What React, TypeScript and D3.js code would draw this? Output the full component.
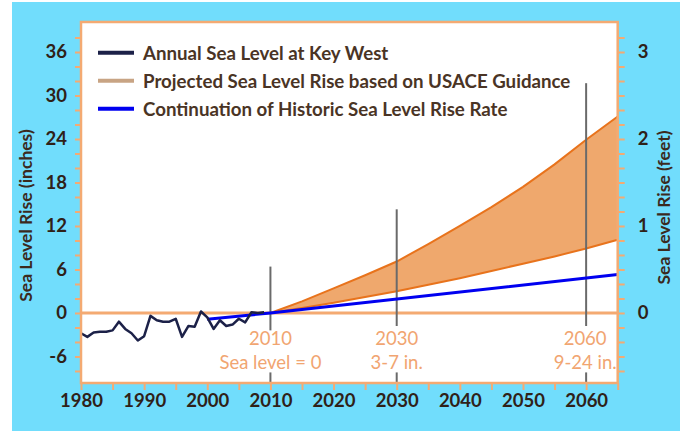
import React, { useEffect, useRef } from 'react';
import * as d3 from 'd3';

// annual mean sea level at Key West, inches relative to 2010
const keyWestYears = [1980, 1981, 1982, 1983, 1984, 1985, 1986, 1987, 1988, 1989, 1990, 1991, 1992, 1993, 1994,
  1995, 1996, 1997, 1998, 1999, 2000, 2001, 2002, 2003, 2004, 2005, 2006, 2007, 2008, 2009];
const keyWestLevels = [-2.8, -3.3, -2.7, -2.6, -2.6, -2.4, -1.2, -2.2, -2.8, -3.8, -3.2, -0.4, -1.0, -1.2, -1.2,
  -0.8, -3.3, -1.8, -1.9, 0.2, -0.6, -2.2, -1.0, -1.8, -1.6, -0.8, -1.3, 0.1, 0.0, 0.1];

// USACE projection envelope (inches)
const projYears = [2010, 2015, 2020, 2025, 2030, 2035, 2040, 2045, 2050, 2055, 2060, 2065];
const projLow = [0, 0.7, 1.4, 2.2, 3.0, 3.9, 4.8, 5.8, 6.8, 7.8, 8.9, 10.1];
const projHigh = [0, 1.6, 3.4, 5.2, 7.1, 9.5, 12.0, 14.6, 17.4, 20.5, 23.9, 27.1];

// historic rate continued
const histYears = [2000, 2010, 2065];
const histLevels = [-0.85, 0, 5.3];

const markerYears = [2010, 2030, 2060];
const markerTops = [6.4, 14.3, 31.7];
const markerGapTop = [-2.4, -1.8, -1.8];
const markerTitles = ['2010', '2030', '2060'];
const markerNotes = ['Sea level = 0', '3-7 in.', '9-24 in.'];

const legendLabels = [
  'Annual Sea Level at Key West',
  'Projected Sea Level Rise based on USACE Guidance',
  'Continuation of Historic Sea Level Rise Rate',
];
const legendColors = ['#1c2148', '#c8a484', '#0000f0'];

const yearTicks = [1980, 1990, 2000, 2010, 2020, 2030, 2040, 2050, 2060];
const inchTicks = [-6, 0, 6, 12, 18, 24, 30, 36];
const footTicks = [0, 1, 2, 3];

const FONT = 'Lato, "Open Sans", sans-serif';
const ORANGE = '#f4aa72';

const App: React.FC = () => {
  const ref = useRef<SVGSVGElement>(null);

  useEffect(() => {
    const svg = d3.select(ref.current);
    svg.html('');

    const left = 81, right = 617.7, top = 22, bottom = 383;

    const x = d3.scaleLinear().domain([1980, 2065]).range([left, right]);
    const y = d3.scaleLinear().domain([-9.66, 40.14]).range([bottom, top]);
    const yFeet = d3.scaleLinear().domain([-9.66 / 12, 40.14 / 12]).range([bottom, top]);

    svg.append('rect').attr('x', 12).attr('y', 2).attr('width', 668).attr('height', 429).attr('fill', '#71ddfc');

    svg.append('rect')
      .attr('x', left).attr('y', top)
      .attr('width', right - left).attr('height', bottom - top)
      .attr('fill', '#fff');

    // projection band
    const band = projYears.map((yr, i) => ({ yr, lo: projLow[i], hi: projHigh[i] }));
    svg.append('path')
      .datum(band)
      .attr('fill', '#efa86d')
      .attr('d', d3.area<any>().x(d => x(d.yr)).y0(d => y(d.lo)).y1(d => y(d.hi)));
    [projLow, projHigh].forEach(vals => {
      svg.append('path')
        .datum(projYears.map((yr, i) => [yr, vals[i]] as [number, number]))
        .attr('fill', 'none')
        .attr('stroke', '#e8731c')
        .attr('stroke-width', 2)
        .attr('d', d3.line().x(d => x(d[0])).y(d => y(d[1])));
    });

    // zero line
    svg.append('line')
      .attr('x1', left).attr('x2', right).attr('y1', y(0)).attr('y2', y(0))
      .attr('stroke', ORANGE).attr('stroke-width', 3);

    // marker lines
    markerYears.forEach((yr, i) => {
      const g = svg.append('g').attr('stroke', '#6a6a6a').attr('stroke-width', 2);
      g.append('line').attr('x1', x(yr)).attr('x2', x(yr)).attr('y1', y(markerTops[i])).attr('y2', y(markerGapTop[i]));
      g.append('line').attr('x1', x(yr)).attr('x2', x(yr)).attr('y1', y(-8.2)).attr('y2', bottom);
    });

    // historic continuation
    svg.append('path')
      .datum(histYears.map((yr, i) => [yr, histLevels[i]] as [number, number]))
      .attr('fill', 'none').attr('stroke', '#0000f0').attr('stroke-width', 3)
      .attr('d', d3.line().x(d => x(d[0])).y(d => y(d[1])));

    // Key West observations
    svg.append('path')
      .datum(keyWestYears.map((yr, i) => [yr, keyWestLevels[i]] as [number, number]))
      .attr('fill', 'none').attr('stroke', '#1c2148').attr('stroke-width', 2.5)
      .attr('stroke-linejoin', 'round')
      .attr('d', d3.line().x(d => x(d[0])).y(d => y(d[1])));

    // plot border
    svg.append('rect')
      .attr('x', left).attr('y', top)
      .attr('width', right - left).attr('height', bottom - top)
      .attr('fill', 'none').attr('stroke', ORANGE).attr('stroke-width', 2.5);

    // marker labels
    markerYears.forEach((yr, i) => {
      const cx = i === markerYears.length - 1 ? x(yr) - 1 : x(yr);
      svg.append('text')
        .attr('x', cx).attr('y', y(-3.4))
        .attr('text-anchor', 'middle').attr('dominant-baseline', 'central')
        .attr('font-family', FONT).attr('font-size', 18.5).attr('fill', '#f1a571')
        .text(markerTitles[i]);
      svg.append('text')
        .attr('x', cx).attr('y', y(-6.8))
        .attr('text-anchor', 'middle').attr('dominant-baseline', 'central')
        .attr('font-family', FONT).attr('font-size', 18.5).attr('fill', '#f1a571')
        .text(markerNotes[i]);
    });

    const styleAxis = (g: any) => {
      g.select('.domain').remove();
      g.selectAll('.tick line').attr('stroke', ORANGE).attr('stroke-width', 2);
      g.selectAll('.tick text')
        .attr('font-family', FONT).attr('font-size', 18.5).attr('font-weight', 700).attr('fill', '#2f2118');
    };

    // bottom axis
    const xAxis = svg.append('g').attr('transform', `translate(0,${bottom})`)
      .call(d3.axisBottom(x).tickValues(d3.range(1980, 2066, 5)).tickSize(7).tickPadding(4)
        .tickFormat(d => (yearTicks.includes(+d) ? String(d) : '')));
    styleAxis(xAxis);

    // left axis (inches)
    const yAxis = svg.append('g').attr('transform', `translate(${left},0)`)
      .call(d3.axisLeft(y).tickValues(d3.range(-8, 40, 2)).tickSize(6).tickPadding(8)
        .tickFormat(d => (inchTicks.includes(+d) ? String(d) : '')));
    styleAxis(yAxis);

    // right axis (feet)
    const rAxis = svg.append('g').attr('transform', `translate(${right},0)`)
      .call(d3.axisRight(yFeet).tickValues(d3.range(-4, 20).map(v => v / 6)).tickSize(7).tickPadding(13)
        .tickFormat(d => {
          const f = Math.round(+d * 6) / 6;
          return footTicks.includes(f) ? String(f) : '';
        }));
    styleAxis(rAxis);

    // axis titles
    svg.append('text')
      .attr('transform', `translate(25,${(top + bottom) / 2 + 13}) rotate(-90)`)
      .attr('text-anchor', 'middle').attr('dominant-baseline', 'central')
      .attr('font-family', FONT).attr('font-size', 17.5).attr('font-weight', 700).attr('fill', '#3b2a1e')
      .text('Sea Level Rise (inches)');
    svg.append('text')
      .attr('transform', `translate(663,${(top + bottom) / 2 + 5}) rotate(-90)`)
      .attr('text-anchor', 'middle').attr('dominant-baseline', 'central')
      .attr('font-family', FONT).attr('font-size', 17.5).attr('font-weight', 700).attr('fill', '#3b2a1e')
      .text('Sea Level Rise (feet)');

    // legend
    const legend = svg.append('g');
    legendLabels.forEach((label, i) => {
      const ly = 52.7 + i * 28;
      legend.append('line')
        .attr('x1', 98).attr('x2', 134).attr('y1', ly).attr('y2', ly)
        .attr('stroke', legendColors[i]).attr('stroke-width', 4);
      legend.append('text')
        .attr('x', 143).attr('y', ly).attr('dominant-baseline', 'central')
        .attr('font-family', FONT).attr('font-size', 18.7).attr('font-weight', 700).attr('fill', '#4a3425')
        .text(label);
    });
  }, []);

  return (
    <svg ref={ref} width={680} height={431}
      style={{ position: 'absolute', left: 0, top: 0, display: 'block' }} />
  );
};

export default App;
